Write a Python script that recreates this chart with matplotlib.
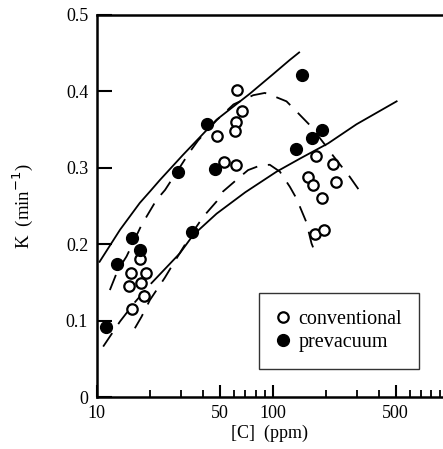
import matplotlib
matplotlib.use("Agg")
import matplotlib.pyplot as plt
from matplotlib.ticker import FixedLocator, NullFormatter

plt.rcParams['font.family'] = ['Liberation Serif', 'DejaVu Serif']

# open circles: conventional
conv_x = [63.2, 66.7, 62.3, 61.3, 48.1, 53.1, 62.3, 176, 160, 170, 191, 221, 229, 174, 196,
          17.6, 15.7, 19.2, 15.3, 18.0, 18.6, 15.8]
conv_y = [0.402, 0.374, 0.360, 0.348, 0.341, 0.307, 0.304, 0.315, 0.288, 0.278, 0.261, 0.305, 0.282, 0.213, 0.219,
          0.181, 0.162, 0.162, 0.145, 0.149, 0.132, 0.115]

# filled circles: prevacuum
prev_x = [147, 42.5, 29.2, 47.0, 34.9, 136, 166.6, 190, 16.0, 17.6, 13.0, 11.3]
prev_y = [0.422, 0.357, 0.294, 0.299, 0.216, 0.324, 0.339, 0.349, 0.208, 0.192, 0.174, 0.091]

# upper solid curve
up_x = [10.4, 13.6, 17.6, 20.1, 22.9, 31.0, 48.1, 74.3, 100, 125, 141.6]
up_y = [0.177, 0.219, 0.254, 0.269, 0.284, 0.317, 0.363, 0.397, 0.422, 0.441, 0.451]

# lower solid curve, with dashed start
lo_x = [20.5, 29.7, 35.4, 48.1, 70, 105.5, 143, 207, 300, 507]
lo_y = [0.149, 0.188, 0.212, 0.240, 0.268, 0.295, 0.312, 0.332, 0.357, 0.387]
lo_ext_x = [10.9, 13.6, 16.5, 20.5]
lo_ext_y = [0.066, 0.099, 0.124, 0.149]

# upper dashed curve
da_x = [11.9, 13.2, 14.8, 18.0, 21.9, 24.5, 33.9, 37.8, 48, 60, 77.6, 90.4, 98.5, 120, 133.8, 162.6,
        202, 222, 252, 275, 330]
da_y = [0.140, 0.166, 0.184, 0.225, 0.258, 0.271, 0.321, 0.336, 0.362, 0.383, 0.395, 0.398, 0.395,
        0.387, 0.376, 0.356, 0.328, 0.315, 0.299, 0.288, 0.262]

# lower dashed curve
db_x = [16.5, 18, 20.1, 24.4, 30, 35, 40.4, 48.1, 52.3, 65.2, 72.6, 85, 96.4, 110, 125.5, 136.6,
        155.5, 166.5, 174]
db_y = [0.090, 0.105, 0.127, 0.156, 0.19, 0.215, 0.236, 0.256, 0.269, 0.288, 0.297, 0.303, 0.304,
        0.295, 0.275, 0.260, 0.229, 0.201, 0.190]

fig = plt.figure(figsize=(4.43, 4.49), dpi=100)
ax = fig.add_axes([0.218, 0.1158, 0.782, 0.8508])

dash = (0, (9, 6))
ax.plot(up_x, up_y, color='black', lw=1.3)
ax.plot(lo_x, lo_y, color='black', lw=1.3)
ax.plot(lo_ext_x, lo_ext_y, color='black', lw=1.3, linestyle=dash)
ax.plot(da_x, da_y, color='black', lw=1.3, linestyle=dash)
ax.plot(db_x, db_y, color='black', lw=1.3, linestyle=dash)

ax.plot(conv_x, conv_y, 'o', mfc='white', mec='black', mew=1.6, ms=7.5, ls='none', label='conventional')
ax.plot(prev_x, prev_y, 'o', mfc='black', mec='black', ms=8.5, ls='none', label='prevacuum')

ax.set_xscale('log')
ax.set_xlim(10, 930)
ax.set_ylim(0, 0.5)

ax.xaxis.set_major_locator(FixedLocator([10, 50, 100, 500]))
ax.xaxis.set_minor_locator(FixedLocator([20, 30, 40, 60, 70, 80, 90, 200, 300, 400, 600, 700, 800, 900]))
ax.xaxis.set_minor_formatter(NullFormatter())
ax.set_xticklabels(['10', '50', '100', '500'])
ax.set_yticks([0, 0.1, 0.2, 0.3, 0.4, 0.5])
ax.set_yticklabels(['0', '0.1', '0.2', '0.3', '0.4', '0.5'])

ax.tick_params(which='major', direction='in', length=9, width=1.5, labelsize=13)
ax.tick_params(axis='x', which='major', pad=6)
ax.tick_params(axis='y', which='major', length=11, pad=6)
ax.tick_params(which='minor', direction='in', length=5, width=1.3)

for side in ['left', 'bottom', 'top']:
    ax.spines[side].set_linewidth(1.8)
ax.spines['right'].set_visible(False)

ax.set_xlabel('[C]  (ppm)', fontsize=13, labelpad=2)
ax.set_ylabel('K  (min$^{-1}$)', fontsize=13.5, labelpad=22)

leg = ax.legend(loc='upper left', bbox_to_anchor=(0.47, 0.273), fontsize=14.5, frameon=True,
                fancybox=False, edgecolor='black', handlelength=0.6, handletextpad=0.5,
                borderpad=0.85, labelspacing=0.2, borderaxespad=0)
leg.get_frame().set_linewidth(1.0)

fig.savefig('out.png', dpi=100)
